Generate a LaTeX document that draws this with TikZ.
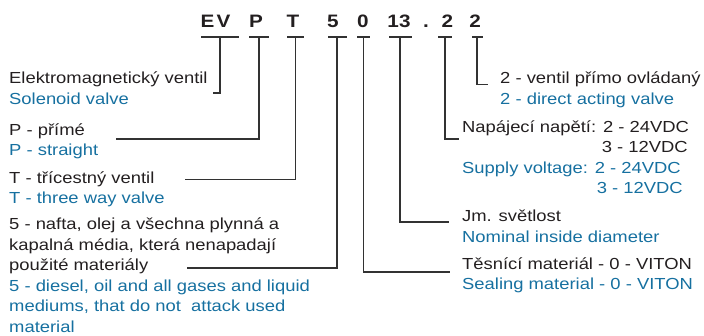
\documentclass[tikz,border=0pt]{standalone}
\usepackage{fontspec}
\setmainfont{Liberation Sans}[FakeStretch=1.15]
\usepackage{tikz}
\usepackage{color}
\definecolor{ink}{RGB}{35,31,32}
\definecolor{rule}{RGB}{50,50,50}
\definecolor{enblue}{RGB}{22,112,160}
\tikzset{
  code/.style={font=\bfseries\fontsize{18}{20}\selectfont, text=ink, inner sep=0pt, anchor=base},
  cz/.style={font=\fontsize{16}{20}\selectfont, text=ink, inner sep=0pt, anchor=base west},
  en/.style={cz, text=enblue},
  bar/.style={fill=rule, inner sep=0pt, minimum height=1.5pt},
  lead/.style={rule, line width=1.5pt},
}

\begin{document}
\begin{tikzpicture}[x=1pt,y=-1pt]
\useasboundingbox (0,0) rectangle (704,336);

% type code
\node[code] (cE) at (207.5,28) {E};
\node[code] (cV) at (223.5,28) {V};
\node[code] (cP) at (256,28) {P};
\node[code] (cT) at (293,28) {T};
\node[code] (c5) at (333,28) {5};
\node[code] (c0) at (363,28) {0};
\node[code] (c13) at (399,28) {13};
\node[code] (cDot) at (426,28) {.};
\node[code] (c2a) at (447.5,28) {2};
\node[code] (c2b) at (475,28) {2};

\node[bar, minimum width=38pt] (bEV) at (220,37) {};
\node[bar, minimum width=20pt] (bP) at (259,37) {};
\node[bar, minimum width=17pt] (bT) at (295.5,37) {};
\node[bar, minimum width=19pt] (b5) at (337,37) {};
\node[bar, minimum width=13pt] (b0) at (363.5,37) {};
\node[bar, minimum width=23pt] (b13) at (400,37) {};
\node[bar, minimum width=14pt] (b2a) at (445,37) {};
\node[bar, minimum width=11pt] (b2b) at (477,37) {};

% left side
\node[cz] (tEV) at (9,84) {Elektromagnetický ventil};
\node[en] (tEVen) at (9,104.5) {Solenoid valve};
\node[cz] (tP) at (9,135.5) {P - přímé};
\node[en] (tPen) at (9,156) {P - straight};
\node[cz] (tT) at (9,183.3) {T - třícestný ventil};
\node[en] (tTen) at (9,203.5) {T - three way valve};
\node[cz] (t5a) at (9,230) {5 - nafta, olej a všechna plynná a};
\node[cz] (t5b) at (9,250.5) {kapalná média, která nenapadají};
\node[cz] (t5c) at (9,271) {použité materiály};
\node[en] (t5ena) at (9,291.5) {5 - diesel, oil and all gases and liquid};
\node[en] (t5enb) at (9,312) {mediums, that do not \ attack used};
\node[en] (t5enc) at (9,332.5) {material};

% right side
\node[cz] (t2) at (500,84) {2 - ventil přímo ovládaný};
\node[en] (t2en) at (500,104.5) {2 - direct acting valve};
\node[cz] (tU) at (462,132.5) {Napájecí napětí: 2 - 24VDC};
\node[cz, anchor=base east] (tU3) at (688,153) {3 - 12VDC};
\node[en] (tUen) at (462,173.5) {Supply voltage: 2 - 24VDC};
\node[en, anchor=base east] (tUen3) at (683,193.5) {3 - 12VDC};
\node[cz] (tD) at (462,221.5) {Jm. světlost};
\node[en] (tDen) at (462,242.5) {Nominal inside diameter};
\node[cz] (tS) at (462,269.5) {Těsnící materiál - 0 - VITON};
\node[en] (tSen) at (462,289.5) {Sealing material - 0 - VITON};

% leaders
\coordinate (hEV) at (213,93);
\coordinate (hP) at (116,139);
\coordinate (hT) at (185,179.5);
\coordinate (h5) at (187,268);
\coordinate (h0) at (450,272);
\coordinate (h13) at (449,222);
\coordinate (h2a) at (459,139);
\coordinate (h2b) at (488,84.5);

\draw[lead] (bEV) |- (hEV);
\draw[lead] (bP) |- (hP);
\draw[lead] (bT) |- (hT);
\draw[lead] (b5) |- (h5);
\draw[lead] (b0) |- (h0);
\draw[lead] (b13) |- (h13);
\draw[lead] (b2a) |- (h2a);
\draw[lead] (b2b) |- (h2b);
\end{tikzpicture}
\end{document}
